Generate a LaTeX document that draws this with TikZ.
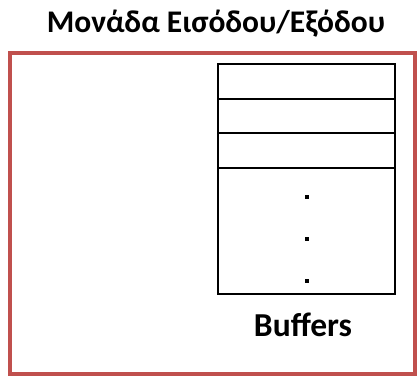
\documentclass[tikz,border=0pt]{standalone}
\usepackage{fontspec}
\setmainfont{Carlito}
\begin{document}
\begin{tikzpicture}[x=1pt,y=-1pt,
  frame/.style={draw={rgb,255:red,192;green,80;blue,77},line width=4.5pt},
  slot/.style={draw=black,line width=1.4pt},
  dotmark/.style={fill=black,minimum size=4pt,inner sep=0pt,draw=none}]
\useasboundingbox (0,0) rectangle (419,378);
% outer unit frame
\draw[frame] (10,53) rectangle (415,374);
\node[font=\bfseries\fontsize{31.5}{36}\selectfont,anchor=base,inner sep=0pt] (title) at (216,32) {Μονάδα Εισόδου/Εξόδου};
% buffer stack
\draw[slot] (218,64) rectangle (395,294);
\draw[slot] (218,99) -- (395,99);
\draw[slot] (218,133) -- (395,133);
\draw[slot] (218,168) -- (395,168);
\node[dotmark] (d1) at (307,197) {};
\node[dotmark] (d2) at (307,239) {};
\node[dotmark] (d3) at (307,281) {};
\node[font=\bfseries\fontsize{33.5}{38}\selectfont,anchor=base,inner sep=0pt] (buf) at (303,336) {Buffers};
\end{tikzpicture}
\end{document}
